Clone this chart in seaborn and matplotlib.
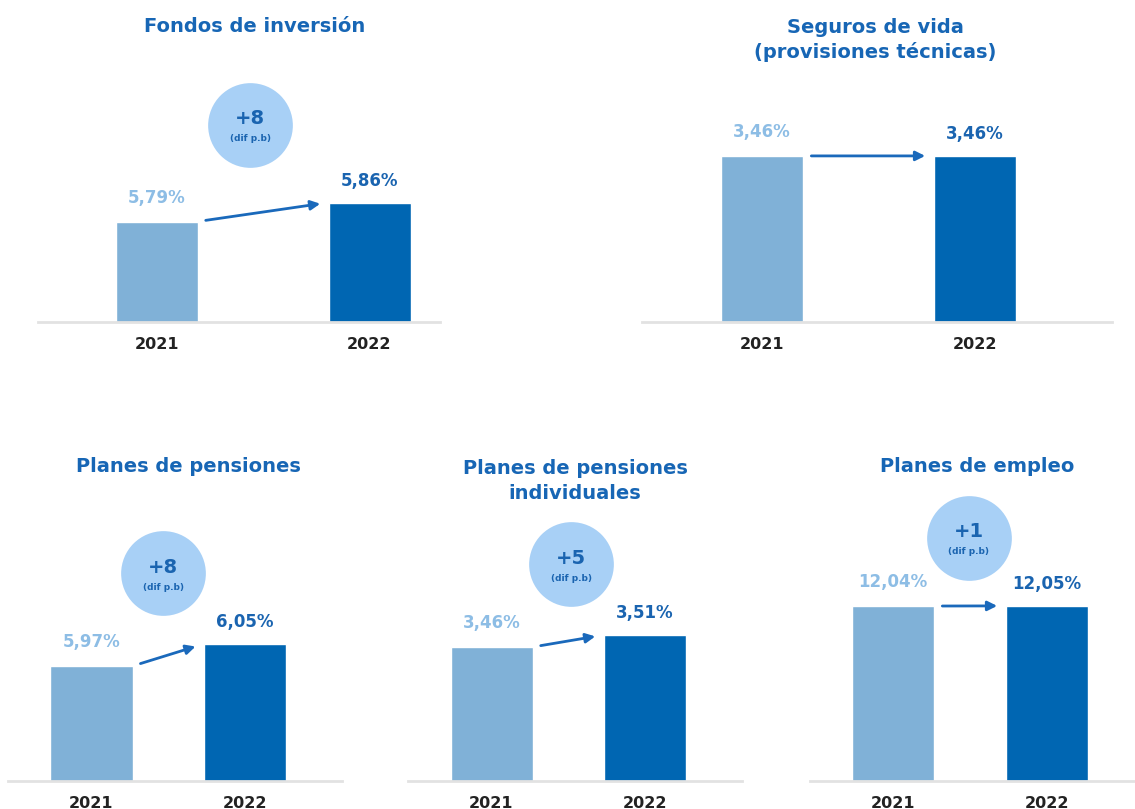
import matplotlib
matplotlib.use("Agg")
import matplotlib.pyplot as plt
import matplotlib.transforms as mtransforms
import seaborn as sns

# data
titles = ["Fondos de inversión", "Seguros de vida\n(provisiones técnicas)", "Planes de pensiones",
          "Planes de pensiones\nindividuales", "Planes de empleo"]
years = ["2021", "2022"]
values_2021 = [5.79, 3.46, 5.97, 3.46, 12.04]
values_2022 = [5.86, 3.46, 6.05, 3.51, 12.05]
labels_2021 = ["5,79%", "3,46%", "5,97%", "3,46%", "12,04%"]
labels_2022 = ["5,86%", "3,46%", "6,05%", "3,51%", "12,05%"]
diff_pb = [8, 0, 8, 5, 1]

LIGHT = "#80b1d7"
DARK = "#0066b2"
LIGHT_TXT = "#8dbde5"
DARK_TXT = "#1a64b0"
CIRCLE = "#a8d0f6"
ARROW = "#1a69bb"
TITLE = "#1766b5"

W, H = 1135, 809

sns.set_style("white")
plt.rcParams['font.family'] = ['DejaVu Sans']

fig = plt.figure(figsize=(W / 100, H / 100), dpi=100)

# layout in pixels: (line left, line right, bar centre 1, bar centre 2, baseline, axes top)
layout = [
    (38, 440, 156.5, 369.5, 322, 60),
    (642, 1112, 762, 974.5, 322, 60),
    (8, 342, 91.5, 244.5, 781, 520),
    (408, 742, 491.5, 644.5, 781, 520),
    (810, 1135, 893, 1046.5, 781, 520),
]
bar_px = 82
# truncated value axes, one per panel
ylims = [(5.42, 6.385), (0, 5.458), (5.552, 6.501), (2.902, 3.989), (0, 17.96)]
title_pos = [(255, 27), (875, 40), (188, 467), (575, 481), (977, 467)]
# bubble placement: x in category units, lift above the 2022 bar in pixels
bubble_x = [0.44, 0.5, 0.47, 0.52, 0.495]
bubble_lift = [78, 72, 71, 71, 68]

for i in range(5):
    left, right, c0, c1, base, top = layout[i]
    ax = fig.add_axes([left / W, 1 - base / H, (right - left) / W, (base - top) / H])
    step = c1 - c0
    w = bar_px / step
    sns.barplot(x=years, y=[values_2021[i], values_2022[i]], hue=years,
                palette=[LIGHT, DARK], saturation=1, width=w, legend=False, ax=ax)
    ax.set_xlim(-(c0 - left) / step, 1 + (right - c1) / step)
    ax.set_ylim(*ylims[i])
    ax.set_yticks([])
    ax.set_xlabel("")
    ax.set_ylabel("")
    for s in ["top", "left", "right"]:
        ax.spines[s].set_visible(False)
    ax.spines["bottom"].set_color("#e2e2e2")
    ax.spines["bottom"].set_linewidth(2)
    ax.tick_params(axis="x", length=0, pad=10.5, labelsize=11.5, labelcolor="#222222")
    for t in ax.get_xticklabels():
        t.set_fontweight("bold")

    # value labels
    ax.annotate(labels_2021[i], (0, values_2021[i]), xytext=(0, 24), textcoords="offset pixels",
                ha="center", va="center", fontsize=12, fontweight="bold", color=LIGHT_TXT,
                annotation_clip=False)
    ax.annotate(labels_2022[i], (1, values_2022[i]), xytext=(0, 22), textcoords="offset pixels",
                ha="center", va="center", fontsize=12, fontweight="bold", color=DARK_TXT,
                annotation_clip=False)

    # arrow between bars
    ax.annotate("", xy=(1 - w / 2, values_2022[i]), xytext=(w / 2, values_2021[i]),
                arrowprops=dict(arrowstyle="-|>", color=ARROW, lw=2, mutation_scale=14,
                                shrinkA=6, shrinkB=6),
                annotation_clip=False)

    # difference bubble
    if diff_pb[i] != 0:
        mid = bubble_x[i]
        lift = bubble_lift[i]
        trans = mtransforms.offset_copy(ax.transData, fig=fig, x=0, y=lift, units="dots")
        ax.plot([mid], [values_2022[i]], "o", markersize=61, color=CIRCLE, mec="none",
                transform=trans, clip_on=False)
        t1 = mtransforms.offset_copy(ax.transData, fig=fig, x=0, y=lift + 6, units="dots")
        ax.text(mid, values_2022[i], f"+{diff_pb[i]}", transform=t1, ha="center", va="center",
                fontsize=14, fontweight="bold", color=DARK_TXT, clip_on=False)
        t2 = mtransforms.offset_copy(ax.transData, fig=fig, x=0, y=lift - 14, units="dots")
        ax.text(mid, values_2022[i], "(dif p.b)", transform=t2, ha="center", va="center",
                fontsize=6.5, fontweight="bold", color=DARK_TXT, clip_on=False)

    tx, ty = title_pos[i]
    fig.text(tx / W, 1 - ty / H, titles[i], ha="center", va="center", fontsize=14,
             fontweight="bold", color=TITLE, linespacing=1.35)

fig.savefig("out.png", dpi=100, facecolor="white")
